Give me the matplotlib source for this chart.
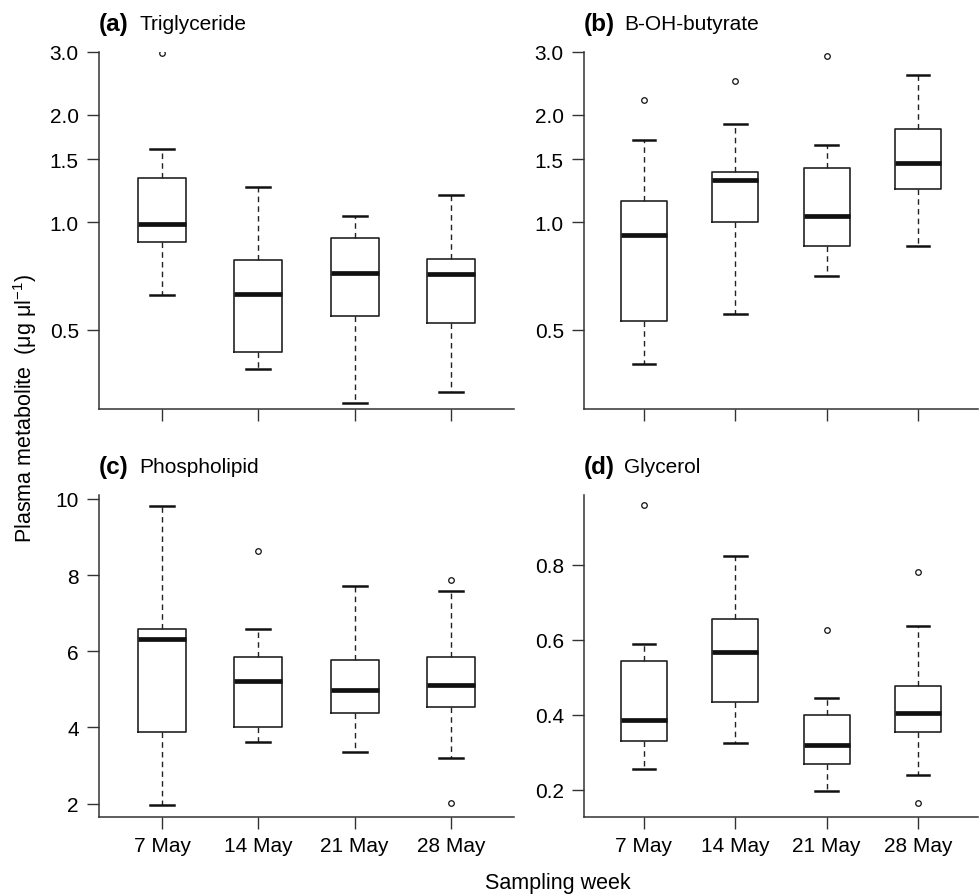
import numpy as np
import matplotlib
matplotlib.use("Agg")
import matplotlib.pyplot as plt

plt.rcParams['font.family'] = ['Liberation Sans', 'DejaVu Sans']
plt.rcParams['mathtext.default'] = 'regular'

weeks = ['7 May', '14 May', '21 May', '28 May']

# five-number summaries: lower whisker, Q1, median, Q3, upper whisker
tri_stats = [[0.627, 0.879, 0.99, 1.33, 1.60],
             [0.389, 0.432, 0.631, 0.783, 1.26],
             [0.312, 0.546, 0.722, 0.904, 1.04],
             [0.335, 0.522, 0.715, 0.791, 1.19]]
tri_out = [[2.98], [], [], []]

but_stats = [[0.40, 0.53, 0.922, 1.15, 1.70],
             [0.554, 1.00, 1.31, 1.38, 1.89],
             [0.709, 0.856, 1.04, 1.42, 1.65],
             [0.856, 1.24, 1.47, 1.83, 2.59]]
but_out = [[2.20], [2.49], [2.93], []]

pho_stats = [[1.97, 3.87, 6.33, 6.58, 9.82],
             [3.62, 4.02, 5.23, 5.85, 6.59],
             [3.36, 4.38, 4.97, 5.78, 7.70],
             [3.20, 4.54, 5.12, 5.85, 7.57]]
pho_out = [[], [8.62], [], [7.88, 2.02]]

gly_stats = [[0.256, 0.329, 0.385, 0.544, 0.589],
             [0.326, 0.433, 0.566, 0.655, 0.822],
             [0.196, 0.270, 0.319, 0.400, 0.445],
             [0.240, 0.355, 0.404, 0.477, 0.637]]
gly_out = [[0.958], [], [0.627], [0.780, 0.165]]

log_ticks = [0.5, 1.0, 1.5, 2.0, 3.0]
log_labels = ['0.5', '1.0', '1.5', '2.0', '3.0']
pho_ticks = [2, 4, 6, 8, 10]
gly_ticks = [0.2, 0.4, 0.6, 0.8]

W, H = 980, 895
fig = plt.figure(figsize=(W / 100, H / 100), dpi=100)


def make_ax(l, r, t, b):
    return fig.add_axes([l / W, 1 - b / H, (r - l) / W, (b - t) / H])


def draw_panel(ax, stats, outliers, letter, name):
    bx = []
    for s, o in zip(stats, outliers):
        bx.append(dict(whislo=s[0], q1=s[1], med=s[2], q3=s[3], whishi=s[4], fliers=o))
    ax.bxp(bx, positions=[1, 2, 3, 4], widths=0.5, capwidths=0.25,
           boxprops=dict(color='#222222', linewidth=1.2),
           medianprops=dict(color='#111111', linewidth=3.4, solid_capstyle='butt'),
           whiskerprops=dict(color='#222222', linewidth=1.0, linestyle=(0, (4, 3))),
           capprops=dict(color='#111111', linewidth=1.8),
           flierprops=dict(marker='o', markerfacecolor='none', markeredgecolor='#111111',
                           markersize=4, markeredgewidth=0.9))
    ax.set_xlim(0.344, 4.656)
    for side in ['top', 'right']:
        ax.spines[side].set_visible(False)
    for side in ['left', 'bottom']:
        ax.spines[side].set_color('#333333')
        ax.spines[side].set_linewidth(1.1)
    ax.tick_params(axis='both', length=8.5, width=1.0, color='#333333',
                   labelsize=15, direction='out')
    ax.tick_params(axis='y', pad=6)
    ax.tick_params(axis='x', pad=5)
    pos = ax.get_position()
    dy = 1.0 + 28 / (pos.height * H)
    ax.text(0.0, dy, '(' + letter + ')', transform=ax.transAxes,
            fontsize=17.5, fontweight='bold', va='center', ha='left')
    ax.text(40 / (pos.width * W), dy, name, transform=ax.transAxes,
            fontsize=15, va='center', ha='left')


ax_a = make_ax(99, 514, 53, 410)
ax_b = make_ax(584, 978, 53, 410)
ax_c = make_ax(99, 514, 496, 818)
ax_d = make_ax(584, 978, 496, 818)

for ax in [ax_a, ax_b]:
    ax.set_yscale('log')
    ax.set_ylim(0.3, 3.0)

draw_panel(ax_a, tri_stats, tri_out, 'a', 'Triglyceride')
draw_panel(ax_b, but_stats, but_out, 'b', 'B-OH-butyrate')
draw_panel(ax_c, pho_stats, pho_out, 'c', 'Phospholipid')
draw_panel(ax_d, gly_stats, gly_out, 'd', 'Glycerol')

for ax in [ax_a, ax_b]:
    ax.yaxis.set_minor_locator(matplotlib.ticker.NullLocator())
    ax.yaxis.set_minor_formatter(matplotlib.ticker.NullFormatter())
    ax.set_yticks(log_ticks)
    ax.set_yticklabels(log_labels)
    ax.set_xticks([1, 2, 3, 4])
    ax.set_xticklabels([])

ax_c.set_ylim(1.65, 10.1)
ax_c.set_yticks(pho_ticks)
ax_d.set_ylim(0.128, 0.985)
ax_d.set_yticks(gly_ticks)
for ax in [ax_c, ax_d]:
    ax.set_xticks([1, 2, 3, 4])
    ax.set_xticklabels(weeks)

fig.text(25 / W, 1 - 408 / H, 'Plasma metabolite  (μg μl$^{-1}$)', rotation=90,
         fontsize=15.5, ha='center', va='center')
fig.text(558 / W, 1 - 884 / H, 'Sampling week', fontsize=15.5, ha='center', va='center')

fig.savefig('out.png', dpi=100)
